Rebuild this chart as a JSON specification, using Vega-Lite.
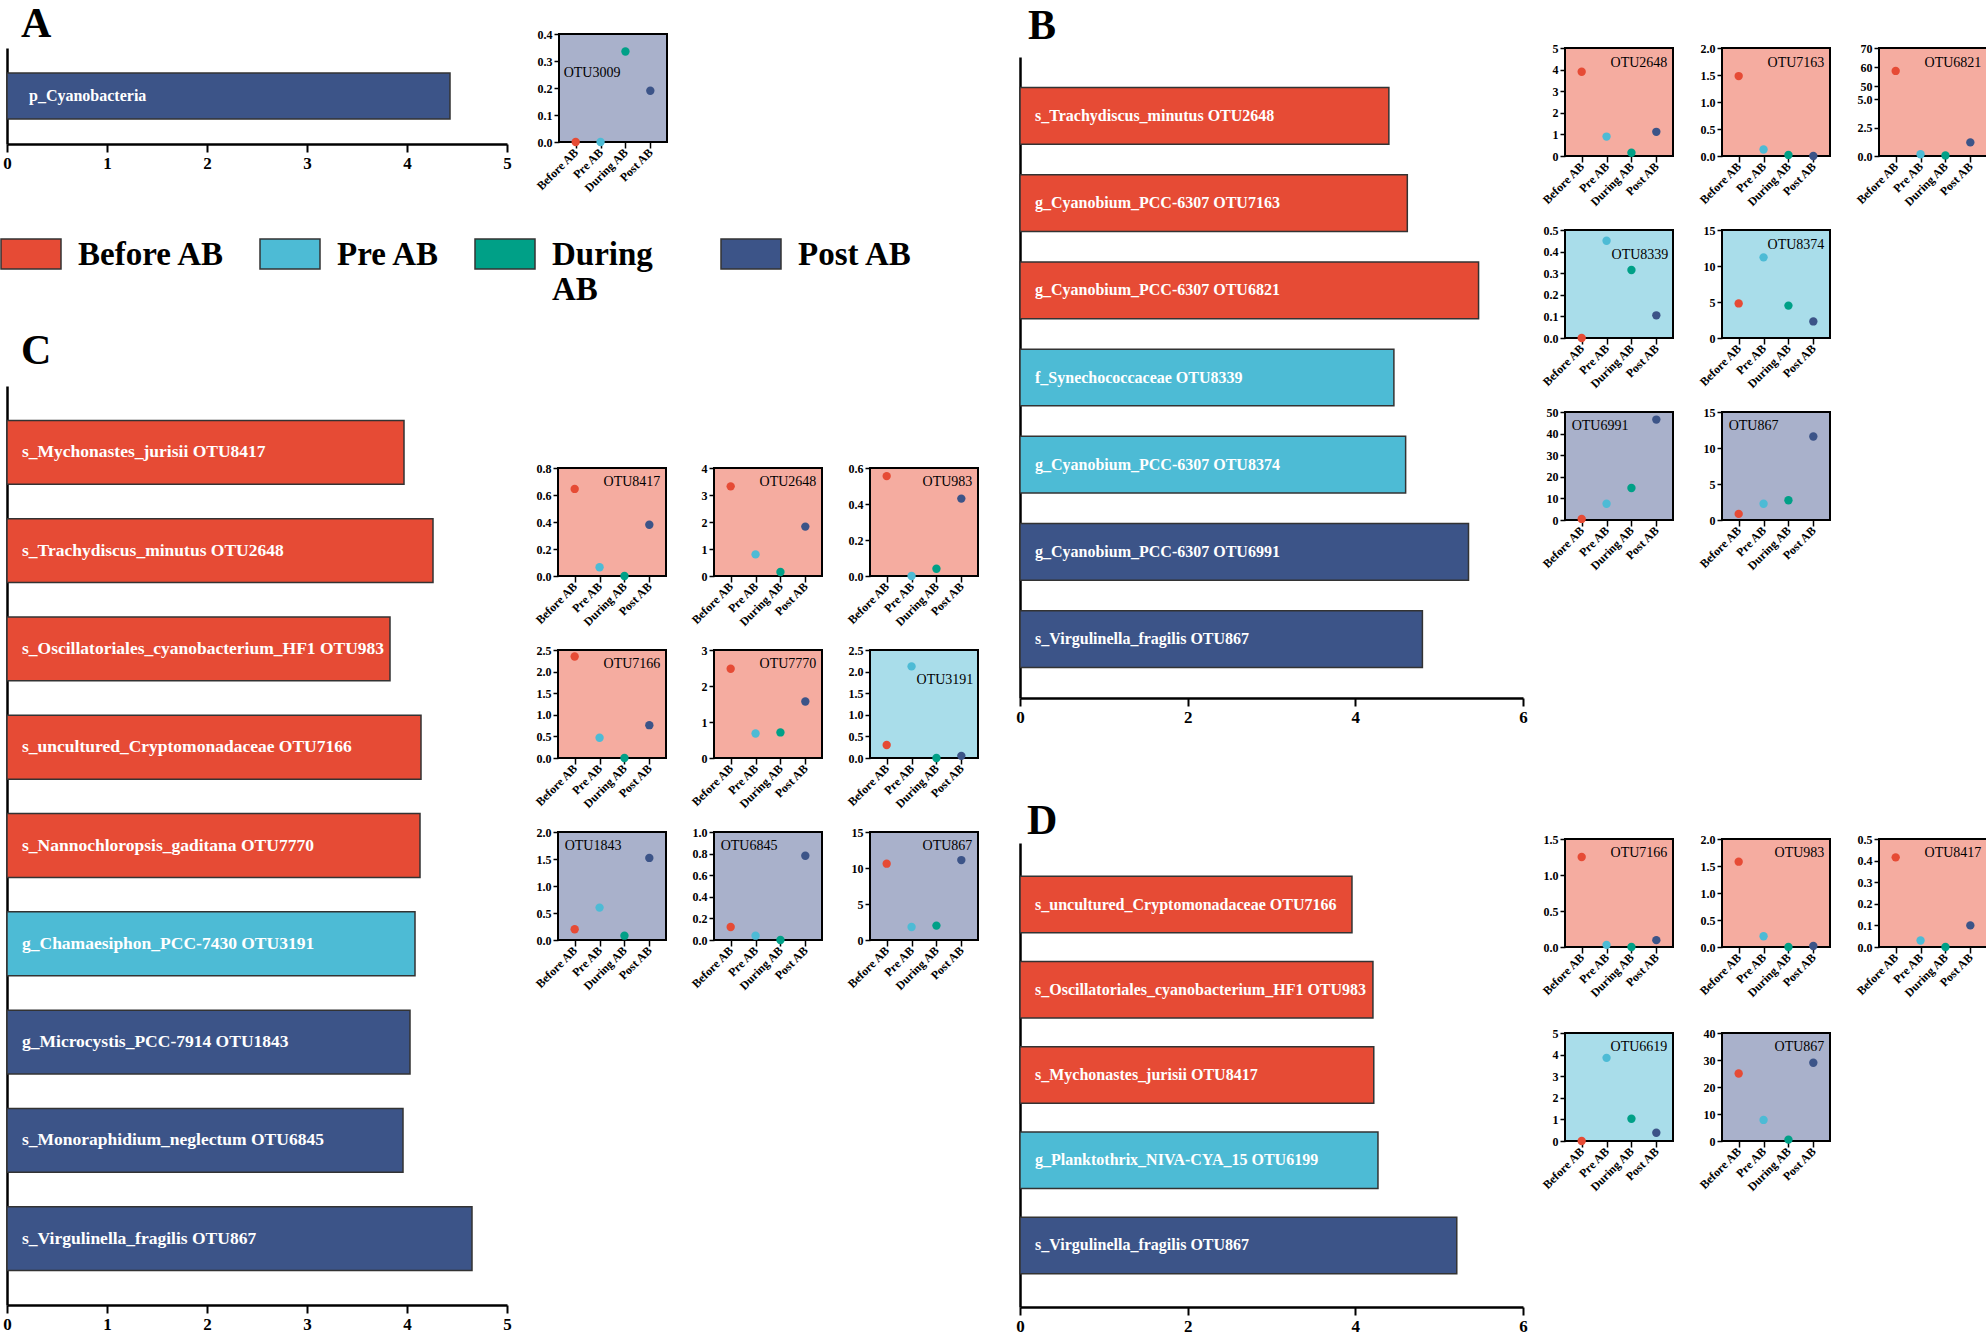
{
"$schema": "https://vega.github.io/schema/vega-lite/v6.json",
"background": "white",
"padding": {"left": 0, "top": 3, "right": 0, "bottom": 0},
"datasets": {
"bars": [
{"panel":"A","label":"p_Cyanobacteria","group":"Post AB","value":4.43},
{"panel":"B","label":"s_Trachydiscus_minutus OTU2648","group":"Before AB","value":4.40},
{"panel":"B","label":"g_Cyanobium_PCC-6307 OTU7163","group":"Before AB","value":4.62},
{"panel":"B","label":"g_Cyanobium_PCC-6307 OTU6821","group":"Before AB","value":5.47},
{"panel":"B","label":"f_Synechococcaceae OTU8339","group":"Pre AB","value":4.46},
{"panel":"B","label":"g_Cyanobium_PCC-6307 OTU8374","group":"Pre AB","value":4.60},
{"panel":"B","label":"g_Cyanobium_PCC-6307 OTU6991","group":"Post AB","value":5.35},
{"panel":"B","label":"s_Virgulinella_fragilis OTU867","group":"Post AB","value":4.80},
{"panel":"C","label":"s_Mychonastes_jurisii OTU8417","group":"Before AB","value":3.97},
{"panel":"C","label":"s_Trachydiscus_minutus OTU2648","group":"Before AB","value":4.26},
{"panel":"C","label":"s_Oscillatoriales_cyanobacterium_HF1 OTU983","group":"Before AB","value":3.83},
{"panel":"C","label":"s_uncultured_Cryptomonadaceae OTU7166","group":"Before AB","value":4.14},
{"panel":"C","label":"s_Nannochloropsis_gaditana OTU7770","group":"Before AB","value":4.13},
{"panel":"C","label":"g_Chamaesiphon_PCC-7430 OTU3191","group":"Pre AB","value":4.08},
{"panel":"C","label":"g_Microcystis_PCC-7914 OTU1843","group":"Post AB","value":4.03},
{"panel":"C","label":"s_Monoraphidium_neglectum OTU6845","group":"Post AB","value":3.96},
{"panel":"C","label":"s_Virgulinella_fragilis OTU867","group":"Post AB","value":4.65},
{"panel":"D","label":"s_uncultured_Cryptomonadaceae OTU7166","group":"Before AB","value":3.96},
{"panel":"D","label":"s_Oscillatoriales_cyanobacterium_HF1 OTU983","group":"Before AB","value":4.21},
{"panel":"D","label":"s_Mychonastes_jurisii OTU8417","group":"Before AB","value":4.22},
{"panel":"D","label":"g_Planktothrix_NIVA-CYA_15 OTU6199","group":"Pre AB","value":4.27},
{"panel":"D","label":"s_Virgulinella_fragilis OTU867","group":"Post AB","value":5.21}
],
"pts": [
{"chart":"A1","otu":"OTU3009","group":"Before AB","value":0},
{"chart":"A1","otu":"OTU3009","group":"Pre AB","value":0},
{"chart":"A1","otu":"OTU3009","group":"During AB","value":0.335},
{"chart":"A1","otu":"OTU3009","group":"Post AB","value":0.19},
{"chart":"B1","otu":"OTU2648","group":"Before AB","value":3.9},
{"chart":"B1","otu":"OTU2648","group":"Pre AB","value":0.9},
{"chart":"B1","otu":"OTU2648","group":"During AB","value":0.15},
{"chart":"B1","otu":"OTU2648","group":"Post AB","value":1.12},
{"chart":"B2","otu":"OTU7163","group":"Before AB","value":1.48},
{"chart":"B2","otu":"OTU7163","group":"Pre AB","value":0.12},
{"chart":"B2","otu":"OTU7163","group":"During AB","value":0.02},
{"chart":"B2","otu":"OTU7163","group":"Post AB","value":0.0},
{"chart":"B3","otu":"OTU6821","group":"Before AB","value":58},
{"chart":"B3","otu":"OTU6821","group":"Pre AB","value":0.15},
{"chart":"B3","otu":"OTU6821","group":"During AB","value":0.05},
{"chart":"B3","otu":"OTU6821","group":"Post AB","value":1.2},
{"chart":"B4","otu":"OTU8339","group":"Before AB","value":0.0},
{"chart":"B4","otu":"OTU8339","group":"Pre AB","value":0.45},
{"chart":"B4","otu":"OTU8339","group":"During AB","value":0.315},
{"chart":"B4","otu":"OTU8339","group":"Post AB","value":0.105},
{"chart":"B5","otu":"OTU8374","group":"Before AB","value":4.8},
{"chart":"B5","otu":"OTU8374","group":"Pre AB","value":11.2},
{"chart":"B5","otu":"OTU8374","group":"During AB","value":4.5},
{"chart":"B5","otu":"OTU8374","group":"Post AB","value":2.3},
{"chart":"B6","otu":"OTU6991","group":"Before AB","value":0.5},
{"chart":"B6","otu":"OTU6991","group":"Pre AB","value":7.5},
{"chart":"B6","otu":"OTU6991","group":"During AB","value":14.8},
{"chart":"B6","otu":"OTU6991","group":"Post AB","value":46.5},
{"chart":"B7","otu":"OTU867","group":"Before AB","value":0.85},
{"chart":"B7","otu":"OTU867","group":"Pre AB","value":2.25},
{"chart":"B7","otu":"OTU867","group":"During AB","value":2.75},
{"chart":"B7","otu":"OTU867","group":"Post AB","value":11.6},
{"chart":"C1","otu":"OTU8417","group":"Before AB","value":0.645},
{"chart":"C1","otu":"OTU8417","group":"Pre AB","value":0.065},
{"chart":"C1","otu":"OTU8417","group":"During AB","value":0.0},
{"chart":"C1","otu":"OTU8417","group":"Post AB","value":0.38},
{"chart":"C2","otu":"OTU2648","group":"Before AB","value":3.32},
{"chart":"C2","otu":"OTU2648","group":"Pre AB","value":0.8},
{"chart":"C2","otu":"OTU2648","group":"During AB","value":0.15},
{"chart":"C2","otu":"OTU2648","group":"Post AB","value":1.83},
{"chart":"C3","otu":"OTU983","group":"Before AB","value":0.555},
{"chart":"C3","otu":"OTU983","group":"Pre AB","value":0.0},
{"chart":"C3","otu":"OTU983","group":"During AB","value":0.04},
{"chart":"C3","otu":"OTU983","group":"Post AB","value":0.43},
{"chart":"C4","otu":"OTU7166","group":"Before AB","value":2.35},
{"chart":"C4","otu":"OTU7166","group":"Pre AB","value":0.47},
{"chart":"C4","otu":"OTU7166","group":"During AB","value":0.0},
{"chart":"C4","otu":"OTU7166","group":"Post AB","value":0.76},
{"chart":"C5","otu":"OTU7770","group":"Before AB","value":2.48},
{"chart":"C5","otu":"OTU7770","group":"Pre AB","value":0.68},
{"chart":"C5","otu":"OTU7770","group":"During AB","value":0.71},
{"chart":"C5","otu":"OTU7770","group":"Post AB","value":1.57},
{"chart":"C6","otu":"OTU3191","group":"Before AB","value":0.3},
{"chart":"C6","otu":"OTU3191","group":"Pre AB","value":2.12},
{"chart":"C6","otu":"OTU3191","group":"During AB","value":0.0},
{"chart":"C6","otu":"OTU3191","group":"Post AB","value":0.05},
{"chart":"C7","otu":"OTU1843","group":"Before AB","value":0.2},
{"chart":"C7","otu":"OTU1843","group":"Pre AB","value":0.6},
{"chart":"C7","otu":"OTU1843","group":"During AB","value":0.08},
{"chart":"C7","otu":"OTU1843","group":"Post AB","value":1.52},
{"chart":"C8","otu":"OTU6845","group":"Before AB","value":0.12},
{"chart":"C8","otu":"OTU6845","group":"Pre AB","value":0.04},
{"chart":"C8","otu":"OTU6845","group":"During AB","value":0.0},
{"chart":"C8","otu":"OTU6845","group":"Post AB","value":0.78},
{"chart":"C9","otu":"OTU867","group":"Before AB","value":10.6},
{"chart":"C9","otu":"OTU867","group":"Pre AB","value":1.8},
{"chart":"C9","otu":"OTU867","group":"During AB","value":2.0},
{"chart":"C9","otu":"OTU867","group":"Post AB","value":11.1},
{"chart":"D1","otu":"OTU7166","group":"Before AB","value":1.25},
{"chart":"D1","otu":"OTU7166","group":"Pre AB","value":0.03},
{"chart":"D1","otu":"OTU7166","group":"During AB","value":0.0},
{"chart":"D1","otu":"OTU7166","group":"Post AB","value":0.095},
{"chart":"D2","otu":"OTU983","group":"Before AB","value":1.58},
{"chart":"D2","otu":"OTU983","group":"Pre AB","value":0.2},
{"chart":"D2","otu":"OTU983","group":"During AB","value":0.0},
{"chart":"D2","otu":"OTU983","group":"Post AB","value":0.02},
{"chart":"D3","otu":"OTU8417","group":"Before AB","value":0.415},
{"chart":"D3","otu":"OTU8417","group":"Pre AB","value":0.03},
{"chart":"D3","otu":"OTU8417","group":"During AB","value":0.0},
{"chart":"D3","otu":"OTU8417","group":"Post AB","value":0.1},
{"chart":"D4","otu":"OTU6619","group":"Before AB","value":0.0},
{"chart":"D4","otu":"OTU6619","group":"Pre AB","value":3.85},
{"chart":"D4","otu":"OTU6619","group":"During AB","value":1.03},
{"chart":"D4","otu":"OTU6619","group":"Post AB","value":0.38},
{"chart":"D5","otu":"OTU867","group":"Before AB","value":25},
{"chart":"D5","otu":"OTU867","group":"Pre AB","value":7.8},
{"chart":"D5","otu":"OTU867","group":"During AB","value":0.5},
{"chart":"D5","otu":"OTU867","group":"Post AB","value":29}
]
},
"config": {
"font": "Liberation Serif",
"view": {"stroke": null},
"axis": {"labelFont": "Liberation Serif", "labelFontWeight": "bold", "labelFontSize": 12, "labelColor": "black", "tickColor": "black", "tickWidth": 1.5, "tickSize": 5, "domain": false, "grid": false, "labelPadding": 2, "labelFlush": false, "labelOverlap": false},
"axisX": {"labelAngle": -45, "labelAlign": "right", "labelBaseline": "middle", "tickSize": 6},
"text": {"font": "Liberation Serif"}
},
"spacing": 36,
"hconcat": [
{"vconcat": [
 {"hconcat": [
  {"width": 500, "height": 110,
   "title": {"text": "A", "anchor": "start", "frame": "group", "font": "Liberation Serif", "fontSize": 42, "fontWeight": "bold", "color": "black", "offset": -45, "baseline": "alphabetic", "dx": 14},
   "data": {"name": "bars"}, "transform": [{"filter": "datum.panel=='A'"}],
   "encoding": {"y": {"field": "label", "type": "nominal", "sort": null, "title": null, "scale": {"range": [14, 110], "paddingInner": 0.35, "paddingOuter": 0.35}, "axis": {"labels": false, "domain": true, "domainColor": "black", "domainWidth": 2.5, "tickSize": -8, "tickWidth": 2}}},
   "layer": [
    {"mark": {"type": "bar", "stroke": "#333", "strokeWidth": 1.5}, "encoding": {"x": {"field": "value", "type": "quantitative", "title": null, "scale": {"domain": [0, 5], "nice": false}, "axis": {"values": [0,1,2,3,4,5], "format": "d", "domain": true, "domainColor": "black", "domainWidth": 2.5, "tickSize": 8, "tickWidth": 2, "labelAngle": 0, "labelAlign": "center", "labelBaseline": "top", "labelFontSize": 17, "labelPadding": 3}},
      "color": {"field": "group", "type": "nominal", "scale": {"domain": ["Before AB","Pre AB","During AB","Post AB"], "range": ["#E64B35","#4DBBD5","#00A087","#3C5488"]},
        "legend": {"orient": "none", "legendX": -7, "legendY": 200, "direction": "horizontal", "title": null, "symbolType": "M-1,-0.867H1V0.133H-1Z", "symbolSize": 3600, "symbolStrokeColor": "#333", "symbolStrokeWidth": 1.5, "symbolOpacity": 1, "labelFont": "Liberation Serif", "labelFontSize": 33, "labelFontWeight": "bold", "labelColor": "black", "labelOffset": 16, "columnPadding": 32, "labelBaseline": "alphabetic", "labelLimit": 400, "padding": 0, "labelExpr": "datum.label == 'During AB' ? ['During\u00a0\u2800', 'AB'] : [datum.label, '\u2800']"}}}},
    {"mark": {"type": "text", "align": "left", "dx": 22, "color": "white", "fontSize": 16, "fontWeight": "bold"}, "encoding": {"x": {"datum": 0}, "text": {"field": "label"}}}
   ]},
  {"width": 108, "height": 108, "data": {"name": "pts"}, "transform": [{"filter": "datum.chart=='A1'"}], "view": {"fill": "#A9B1CB", "stroke": "black", "strokeWidth": 2},
   "encoding": {"x": {"field": "group", "type": "nominal", "title": null, "sort": null, "scale": {"type": "point", "domain": ["Before AB","Pre AB","During AB","Post AB"], "padding": 0.67}}, "y": {"field": "value", "type": "quantitative", "title": null, "scale": {"domain": [0, 0.4], "nice": false}, "axis": {"values": [0,0.1,0.2,0.3,0.4], "format": ".1f"}}},
   "layer": [
    {"mark": {"type": "circle", "size": 70, "opacity": 1}, "encoding": {"color": {"field": "group", "type": "nominal", "scale": {"domain": ["Before AB","Pre AB","During AB","Post AB"], "range": ["#E64B35","#4DBBD5","#00A087","#3C5488"]}, "legend": null}}},
    {"transform": [{"filter": "datum.group=='Before AB'"}], "mark": {"type": "text", "align": "left", "baseline": "middle", "dx": -12, "fontSize": 14, "color": "black"}, "encoding": {"x": {"datum": "Before AB"}, "y": {"datum": 0.255}, "text": {"field": "otu"}}}
   ]}
 ], "spacing": 20},
 {"hconcat": [
  {"width": 500, "height": 919,
   "title": {"text": "C", "anchor": "start", "frame": "group", "font": "Liberation Serif", "fontSize": 42, "fontWeight": "bold", "color": "black", "offset": -20, "baseline": "alphabetic", "dx": 14},
   "data": {"name": "bars"}, "transform": [{"filter": "datum.panel=='C'"}],
   "encoding": {"y": {"field": "label", "type": "nominal", "sort": null, "title": null, "scale": {"paddingInner": 0.35, "paddingOuter": 0.35}, "axis": {"labels": false, "domain": true, "domainColor": "black", "domainWidth": 2.5, "tickSize": -8, "tickWidth": 2}}},
   "layer": [
    {"mark": {"type": "bar", "stroke": "#333", "strokeWidth": 1.5}, "encoding": {"x": {"field": "value", "type": "quantitative", "title": null, "scale": {"domain": [0, 5], "nice": false}, "axis": {"values": [0,1,2,3,4,5], "format": "d", "domain": true, "domainColor": "black", "domainWidth": 2.5, "tickSize": 8, "tickWidth": 2, "labelAngle": 0, "labelAlign": "center", "labelBaseline": "top", "labelFontSize": 17, "labelPadding": 3}},
      "color": {"field": "group", "type": "nominal", "scale": {"domain": ["Before AB","Pre AB","During AB","Post AB"], "range": ["#E64B35","#4DBBD5","#00A087","#3C5488"]}, "legend": null}}},
    {"mark": {"type": "text", "align": "left", "dx": 15, "color": "white", "fontSize": 17.5, "fontWeight": "bold"}, "encoding": {"x": {"datum": 0}, "text": {"field": "label"}}}
   ]},
  {"vconcat": [
   {"width": 10, "height": 75, "data": {"values": []}, "mark": "point"},
   {"concat": [
    {"width": 108, "height": 108, "data": {"name": "pts"}, "transform": [{"filter": "datum.chart=='C1'"}], "view": {"fill": "#F5ACA0", "stroke": "black", "strokeWidth": 2},
     "encoding": {"x": {"field": "group", "type": "nominal", "title": null, "sort": null, "scale": {"type": "point", "domain": ["Before AB","Pre AB","During AB","Post AB"], "padding": 0.67}}, "y": {"field": "value", "type": "quantitative", "title": null, "scale": {"domain": [0, 0.8], "nice": false}, "axis": {"values": [0,0.2,0.4,0.6,0.8], "format": ".1f"}}},
     "layer": [
      {"mark": {"type": "circle", "size": 70, "opacity": 1}, "encoding": {"color": {"field": "group", "type": "nominal", "scale": {"domain": ["Before AB","Pre AB","During AB","Post AB"], "range": ["#E64B35","#4DBBD5","#00A087","#3C5488"]}, "legend": null}}},
      {"transform": [{"filter": "datum.group=='Before AB'"}], "mark": {"type": "text", "align": "right", "baseline": "alphabetic", "dx": 11, "dy": 18, "fontSize": 14, "color": "black"}, "encoding": {"x": {"datum": "Post AB"}, "y": {"datum": 0.8}, "text": {"field": "otu"}}}
     ]},
    {"width": 108, "height": 108, "data": {"name": "pts"}, "transform": [{"filter": "datum.chart=='C2'"}], "view": {"fill": "#F5ACA0", "stroke": "black", "strokeWidth": 2},
     "encoding": {"x": {"field": "group", "type": "nominal", "title": null, "sort": null, "scale": {"type": "point", "domain": ["Before AB","Pre AB","During AB","Post AB"], "padding": 0.67}}, "y": {"field": "value", "type": "quantitative", "title": null, "scale": {"domain": [0, 4], "nice": false}, "axis": {"values": [0,1,2,3,4], "format": "d"}}},
     "layer": [
      {"mark": {"type": "circle", "size": 70, "opacity": 1}, "encoding": {"color": {"field": "group", "type": "nominal", "scale": {"domain": ["Before AB","Pre AB","During AB","Post AB"], "range": ["#E64B35","#4DBBD5","#00A087","#3C5488"]}, "legend": null}}},
      {"transform": [{"filter": "datum.group=='Before AB'"}], "mark": {"type": "text", "align": "right", "baseline": "alphabetic", "dx": 11, "dy": 18, "fontSize": 14, "color": "black"}, "encoding": {"x": {"datum": "Post AB"}, "y": {"datum": 4}, "text": {"field": "otu"}}}
     ]},
    {"width": 108, "height": 108, "data": {"name": "pts"}, "transform": [{"filter": "datum.chart=='C3'"}], "view": {"fill": "#F5ACA0", "stroke": "black", "strokeWidth": 2},
     "encoding": {"x": {"field": "group", "type": "nominal", "title": null, "sort": null, "scale": {"type": "point", "domain": ["Before AB","Pre AB","During AB","Post AB"], "padding": 0.67}}, "y": {"field": "value", "type": "quantitative", "title": null, "scale": {"domain": [0, 0.6], "nice": false}, "axis": {"values": [0,0.2,0.4,0.6], "format": ".1f"}}},
     "layer": [
      {"mark": {"type": "circle", "size": 70, "opacity": 1}, "encoding": {"color": {"field": "group", "type": "nominal", "scale": {"domain": ["Before AB","Pre AB","During AB","Post AB"], "range": ["#E64B35","#4DBBD5","#00A087","#3C5488"]}, "legend": null}}},
      {"transform": [{"filter": "datum.group=='Before AB'"}], "mark": {"type": "text", "align": "right", "baseline": "alphabetic", "dx": 11, "dy": 18, "fontSize": 14, "color": "black"}, "encoding": {"x": {"datum": "Post AB"}, "y": {"datum": 0.6}, "text": {"field": "otu"}}}
     ]},
    {"width": 108, "height": 108, "data": {"name": "pts"}, "transform": [{"filter": "datum.chart=='C4'"}], "view": {"fill": "#F5ACA0", "stroke": "black", "strokeWidth": 2},
     "encoding": {"x": {"field": "group", "type": "nominal", "title": null, "sort": null, "scale": {"type": "point", "domain": ["Before AB","Pre AB","During AB","Post AB"], "padding": 0.67}}, "y": {"field": "value", "type": "quantitative", "title": null, "scale": {"domain": [0, 2.5], "nice": false}, "axis": {"values": [0,0.5,1,1.5,2,2.5], "format": ".1f"}}},
     "layer": [
      {"mark": {"type": "circle", "size": 70, "opacity": 1}, "encoding": {"color": {"field": "group", "type": "nominal", "scale": {"domain": ["Before AB","Pre AB","During AB","Post AB"], "range": ["#E64B35","#4DBBD5","#00A087","#3C5488"]}, "legend": null}}},
      {"transform": [{"filter": "datum.group=='Before AB'"}], "mark": {"type": "text", "align": "right", "baseline": "alphabetic", "dx": 11, "dy": 18, "fontSize": 14, "color": "black"}, "encoding": {"x": {"datum": "Post AB"}, "y": {"datum": 2.5}, "text": {"field": "otu"}}}
     ]},
    {"width": 108, "height": 108, "data": {"name": "pts"}, "transform": [{"filter": "datum.chart=='C5'"}], "view": {"fill": "#F5ACA0", "stroke": "black", "strokeWidth": 2},
     "encoding": {"x": {"field": "group", "type": "nominal", "title": null, "sort": null, "scale": {"type": "point", "domain": ["Before AB","Pre AB","During AB","Post AB"], "padding": 0.67}}, "y": {"field": "value", "type": "quantitative", "title": null, "scale": {"domain": [0, 3], "nice": false}, "axis": {"values": [0,1,2,3], "format": "d"}}},
     "layer": [
      {"mark": {"type": "circle", "size": 70, "opacity": 1}, "encoding": {"color": {"field": "group", "type": "nominal", "scale": {"domain": ["Before AB","Pre AB","During AB","Post AB"], "range": ["#E64B35","#4DBBD5","#00A087","#3C5488"]}, "legend": null}}},
      {"transform": [{"filter": "datum.group=='Before AB'"}], "mark": {"type": "text", "align": "right", "baseline": "alphabetic", "dx": 11, "dy": 18, "fontSize": 14, "color": "black"}, "encoding": {"x": {"datum": "Post AB"}, "y": {"datum": 3}, "text": {"field": "otu"}}}
     ]},
    {"width": 108, "height": 108, "data": {"name": "pts"}, "transform": [{"filter": "datum.chart=='C6'"}], "view": {"fill": "#A9DDEA", "stroke": "black", "strokeWidth": 2},
     "encoding": {"x": {"field": "group", "type": "nominal", "title": null, "sort": null, "scale": {"type": "point", "domain": ["Before AB","Pre AB","During AB","Post AB"], "padding": 0.67}}, "y": {"field": "value", "type": "quantitative", "title": null, "scale": {"domain": [0, 2.5], "nice": false}, "axis": {"values": [0,0.5,1,1.5,2,2.5], "format": ".1f"}}},
     "layer": [
      {"mark": {"type": "circle", "size": 70, "opacity": 1}, "encoding": {"color": {"field": "group", "type": "nominal", "scale": {"domain": ["Before AB","Pre AB","During AB","Post AB"], "range": ["#E64B35","#4DBBD5","#00A087","#3C5488"]}, "legend": null}}},
      {"transform": [{"filter": "datum.group=='Before AB'"}], "mark": {"type": "text", "align": "right", "baseline": "middle", "dx": 12, "fontSize": 14, "color": "black"}, "encoding": {"x": {"datum": "Post AB"}, "y": {"datum": 1.8}, "text": {"field": "otu"}}}
     ]},
    {"width": 108, "height": 108, "data": {"name": "pts"}, "transform": [{"filter": "datum.chart=='C7'"}], "view": {"fill": "#A9B1CB", "stroke": "black", "strokeWidth": 2},
     "encoding": {"x": {"field": "group", "type": "nominal", "title": null, "sort": null, "scale": {"type": "point", "domain": ["Before AB","Pre AB","During AB","Post AB"], "padding": 0.67}}, "y": {"field": "value", "type": "quantitative", "title": null, "scale": {"domain": [0, 2], "nice": false}, "axis": {"values": [0,0.5,1,1.5,2], "format": ".1f"}}},
     "layer": [
      {"mark": {"type": "circle", "size": 70, "opacity": 1}, "encoding": {"color": {"field": "group", "type": "nominal", "scale": {"domain": ["Before AB","Pre AB","During AB","Post AB"], "range": ["#E64B35","#4DBBD5","#00A087","#3C5488"]}, "legend": null}}},
      {"transform": [{"filter": "datum.group=='Before AB'"}], "mark": {"type": "text", "align": "left", "baseline": "alphabetic", "dx": -10, "dy": 18, "fontSize": 14, "color": "black"}, "encoding": {"x": {"datum": "Before AB"}, "y": {"datum": 2}, "text": {"field": "otu"}}}
     ]},
    {"width": 108, "height": 108, "data": {"name": "pts"}, "transform": [{"filter": "datum.chart=='C8'"}], "view": {"fill": "#A9B1CB", "stroke": "black", "strokeWidth": 2},
     "encoding": {"x": {"field": "group", "type": "nominal", "title": null, "sort": null, "scale": {"type": "point", "domain": ["Before AB","Pre AB","During AB","Post AB"], "padding": 0.67}}, "y": {"field": "value", "type": "quantitative", "title": null, "scale": {"domain": [0, 1], "nice": false}, "axis": {"values": [0,0.2,0.4,0.6,0.8,1], "format": ".1f"}}},
     "layer": [
      {"mark": {"type": "circle", "size": 70, "opacity": 1}, "encoding": {"color": {"field": "group", "type": "nominal", "scale": {"domain": ["Before AB","Pre AB","During AB","Post AB"], "range": ["#E64B35","#4DBBD5","#00A087","#3C5488"]}, "legend": null}}},
      {"transform": [{"filter": "datum.group=='Before AB'"}], "mark": {"type": "text", "align": "left", "baseline": "alphabetic", "dx": -10, "dy": 18, "fontSize": 14, "color": "black"}, "encoding": {"x": {"datum": "Before AB"}, "y": {"datum": 1}, "text": {"field": "otu"}}}
     ]},
    {"width": 108, "height": 108, "data": {"name": "pts"}, "transform": [{"filter": "datum.chart=='C9'"}], "view": {"fill": "#A9B1CB", "stroke": "black", "strokeWidth": 2},
     "encoding": {"x": {"field": "group", "type": "nominal", "title": null, "sort": null, "scale": {"type": "point", "domain": ["Before AB","Pre AB","During AB","Post AB"], "padding": 0.67}}, "y": {"field": "value", "type": "quantitative", "title": null, "scale": {"domain": [0, 15], "nice": false}, "axis": {"values": [0,5,10,15], "format": "d"}}},
     "layer": [
      {"mark": {"type": "circle", "size": 70, "opacity": 1}, "encoding": {"color": {"field": "group", "type": "nominal", "scale": {"domain": ["Before AB","Pre AB","During AB","Post AB"], "range": ["#E64B35","#4DBBD5","#00A087","#3C5488"]}, "legend": null}}},
      {"transform": [{"filter": "datum.group=='Before AB'"}], "mark": {"type": "text", "align": "right", "baseline": "alphabetic", "dx": 11, "dy": 18, "fontSize": 14, "color": "black"}, "encoding": {"x": {"datum": "Post AB"}, "y": {"datum": 15}, "text": {"field": "otu"}}}
     ]}
   ], "columns": 3, "spacing": {"row": 74, "column": 48}, "bounds": "flush"}
  ], "spacing": 0}
 ], "spacing": 19}
], "spacing": 134},
{"vconcat": [
 {"hconcat": [
  {"width": 503, "height": 664,
   "title": {"text": "B", "anchor": "start", "frame": "group", "font": "Liberation Serif", "fontSize": 42, "fontWeight": "bold", "color": "black", "offset": -47, "baseline": "alphabetic", "dx": 8},
   "data": {"name": "bars"}, "transform": [{"filter": "datum.panel=='B'"}],
   "encoding": {"y": {"field": "label", "type": "nominal", "sort": null, "title": null, "scale": {"range": [23, 664], "paddingInner": 0.35, "paddingOuter": 0.35}, "axis": {"labels": false, "domain": true, "domainColor": "black", "domainWidth": 2.5, "tickSize": -8, "tickWidth": 2}}},
   "layer": [
    {"mark": {"type": "bar", "stroke": "#333", "strokeWidth": 1.5}, "encoding": {"x": {"field": "value", "type": "quantitative", "title": null, "scale": {"domain": [0, 6], "nice": false}, "axis": {"values": [0,2,4,6], "format": "d", "domain": true, "domainColor": "black", "domainWidth": 2.5, "tickSize": 8, "tickWidth": 2, "labelAngle": 0, "labelAlign": "center", "labelBaseline": "top", "labelFontSize": 17, "labelPadding": 3}},
      "color": {"field": "group", "type": "nominal", "scale": {"domain": ["Before AB","Pre AB","During AB","Post AB"], "range": ["#E64B35","#4DBBD5","#00A087","#3C5488"]}, "legend": null}}},
    {"mark": {"type": "text", "align": "left", "dx": 15, "color": "white", "fontSize": 16, "fontWeight": "bold"}, "encoding": {"x": {"datum": 0}, "text": {"field": "label"}}}
   ]},
  {"vconcat": [
   {"width": 10, "height": 7, "data": {"values": []}, "mark": "point"},
   {"concat": [
    {"width": 108, "height": 108, "data": {"name": "pts"}, "transform": [{"filter": "datum.chart=='B1'"}], "view": {"fill": "#F5ACA0", "stroke": "black", "strokeWidth": 2},
     "encoding": {"x": {"field": "group", "type": "nominal", "title": null, "sort": null, "scale": {"type": "point", "domain": ["Before AB","Pre AB","During AB","Post AB"], "padding": 0.67}}, "y": {"field": "value", "type": "quantitative", "title": null, "scale": {"domain": [0, 5], "nice": false}, "axis": {"values": [0,1,2,3,4,5], "format": "d"}}},
     "layer": [
      {"mark": {"type": "circle", "size": 70, "opacity": 1}, "encoding": {"color": {"field": "group", "type": "nominal", "scale": {"domain": ["Before AB","Pre AB","During AB","Post AB"], "range": ["#E64B35","#4DBBD5","#00A087","#3C5488"]}, "legend": null}}},
      {"transform": [{"filter": "datum.group=='Before AB'"}], "mark": {"type": "text", "align": "right", "baseline": "alphabetic", "dx": 11, "dy": 19, "fontSize": 14, "color": "black"}, "encoding": {"x": {"datum": "Post AB"}, "y": {"datum": 5}, "text": {"field": "otu"}}}
     ]},
    {"width": 108, "height": 108, "data": {"name": "pts"}, "transform": [{"filter": "datum.chart=='B2'"}], "view": {"fill": "#F5ACA0", "stroke": "black", "strokeWidth": 2},
     "encoding": {"x": {"field": "group", "type": "nominal", "title": null, "sort": null, "scale": {"type": "point", "domain": ["Before AB","Pre AB","During AB","Post AB"], "padding": 0.67}}, "y": {"field": "value", "type": "quantitative", "title": null, "scale": {"domain": [0, 2], "nice": false}, "axis": {"values": [0,0.5,1,1.5,2], "format": ".1f"}}},
     "layer": [
      {"mark": {"type": "circle", "size": 70, "opacity": 1}, "encoding": {"color": {"field": "group", "type": "nominal", "scale": {"domain": ["Before AB","Pre AB","During AB","Post AB"], "range": ["#E64B35","#4DBBD5","#00A087","#3C5488"]}, "legend": null}}},
      {"transform": [{"filter": "datum.group=='Before AB'"}], "mark": {"type": "text", "align": "right", "baseline": "alphabetic", "dx": 11, "dy": 19, "fontSize": 14, "color": "black"}, "encoding": {"x": {"datum": "Post AB"}, "y": {"datum": 2}, "text": {"field": "otu"}}}
     ]},
    {"width": 108, "height": 108, "data": {"name": "pts"}, "transform": [{"filter": "datum.chart=='B3'"}], "view": {"fill": "#F5ACA0", "stroke": "black", "strokeWidth": 2},
     "encoding": {"x": {"field": "group", "type": "nominal", "title": null, "sort": null, "scale": {"type": "point", "domain": ["Before AB","Pre AB","During AB","Post AB"], "padding": 0.67}}, "y": {"field": "value", "type": "quantitative", "title": null, "scale": {"domain": [0, 5, 50, 70], "range": [108, 51.3, 38.2, 0], "nice": false, "zero": false}, "axis": {"values": [0,2.5,5,50,60,70], "labelExpr": "datum.value >= 50 ? format(datum.value, 'd') : format(datum.value, '.1f')"}}},
     "layer": [
      {"mark": {"type": "circle", "size": 70, "opacity": 1}, "encoding": {"color": {"field": "group", "type": "nominal", "scale": {"domain": ["Before AB","Pre AB","During AB","Post AB"], "range": ["#E64B35","#4DBBD5","#00A087","#3C5488"]}, "legend": null}}},
      {"transform": [{"filter": "datum.group=='Before AB'"}], "mark": {"type": "text", "align": "right", "baseline": "alphabetic", "dx": 11, "dy": 19, "fontSize": 14, "color": "black"}, "encoding": {"x": {"datum": "Post AB"}, "y": {"datum": 70}, "text": {"field": "otu"}}}
     ]},
    {"width": 108, "height": 108, "data": {"name": "pts"}, "transform": [{"filter": "datum.chart=='B4'"}], "view": {"fill": "#A9DDEA", "stroke": "black", "strokeWidth": 2},
     "encoding": {"x": {"field": "group", "type": "nominal", "title": null, "sort": null, "scale": {"type": "point", "domain": ["Before AB","Pre AB","During AB","Post AB"], "padding": 0.67}}, "y": {"field": "value", "type": "quantitative", "title": null, "scale": {"domain": [0, 0.5], "nice": false}, "axis": {"values": [0,0.1,0.2,0.3,0.4,0.5], "format": ".1f"}}},
     "layer": [
      {"mark": {"type": "circle", "size": 70, "opacity": 1}, "encoding": {"color": {"field": "group", "type": "nominal", "scale": {"domain": ["Before AB","Pre AB","During AB","Post AB"], "range": ["#E64B35","#4DBBD5","#00A087","#3C5488"]}, "legend": null}}},
      {"transform": [{"filter": "datum.group=='Before AB'"}], "mark": {"type": "text", "align": "right", "baseline": "middle", "dx": 12, "fontSize": 14, "color": "black"}, "encoding": {"x": {"datum": "Post AB"}, "y": {"datum": 0.384}, "text": {"field": "otu"}}}
     ]},
    {"width": 108, "height": 108, "data": {"name": "pts"}, "transform": [{"filter": "datum.chart=='B5'"}], "view": {"fill": "#A9DDEA", "stroke": "black", "strokeWidth": 2},
     "encoding": {"x": {"field": "group", "type": "nominal", "title": null, "sort": null, "scale": {"type": "point", "domain": ["Before AB","Pre AB","During AB","Post AB"], "padding": 0.67}}, "y": {"field": "value", "type": "quantitative", "title": null, "scale": {"domain": [0, 15], "nice": false}, "axis": {"values": [0,5,10,15], "format": "d"}}},
     "layer": [
      {"mark": {"type": "circle", "size": 70, "opacity": 1}, "encoding": {"color": {"field": "group", "type": "nominal", "scale": {"domain": ["Before AB","Pre AB","During AB","Post AB"], "range": ["#E64B35","#4DBBD5","#00A087","#3C5488"]}, "legend": null}}},
      {"transform": [{"filter": "datum.group=='Before AB'"}], "mark": {"type": "text", "align": "right", "baseline": "alphabetic", "dx": 11, "dy": 19, "fontSize": 14, "color": "black"}, "encoding": {"x": {"datum": "Post AB"}, "y": {"datum": 15}, "text": {"field": "otu"}}}
     ]},
    {"width": 108, "height": 108, "data": {"values": []}, "mark": "point"},
    {"width": 108, "height": 108, "data": {"name": "pts"}, "transform": [{"filter": "datum.chart=='B6'"}], "view": {"fill": "#A9B1CB", "stroke": "black", "strokeWidth": 2},
     "encoding": {"x": {"field": "group", "type": "nominal", "title": null, "sort": null, "scale": {"type": "point", "domain": ["Before AB","Pre AB","During AB","Post AB"], "padding": 0.67}}, "y": {"field": "value", "type": "quantitative", "title": null, "scale": {"domain": [0, 50], "nice": false}, "axis": {"values": [0,10,20,30,40,50], "format": "d"}}},
     "layer": [
      {"mark": {"type": "circle", "size": 70, "opacity": 1}, "encoding": {"color": {"field": "group", "type": "nominal", "scale": {"domain": ["Before AB","Pre AB","During AB","Post AB"], "range": ["#E64B35","#4DBBD5","#00A087","#3C5488"]}, "legend": null}}},
      {"transform": [{"filter": "datum.group=='Before AB'"}], "mark": {"type": "text", "align": "left", "baseline": "alphabetic", "dx": -10, "dy": 18, "fontSize": 14, "color": "black"}, "encoding": {"x": {"datum": "Before AB"}, "y": {"datum": 50}, "text": {"field": "otu"}}}
     ]},
    {"width": 108, "height": 108, "data": {"name": "pts"}, "transform": [{"filter": "datum.chart=='B7'"}], "view": {"fill": "#A9B1CB", "stroke": "black", "strokeWidth": 2},
     "encoding": {"x": {"field": "group", "type": "nominal", "title": null, "sort": null, "scale": {"type": "point", "domain": ["Before AB","Pre AB","During AB","Post AB"], "padding": 0.67}}, "y": {"field": "value", "type": "quantitative", "title": null, "scale": {"domain": [0, 15], "nice": false}, "axis": {"values": [0,5,10,15], "format": "d"}}},
     "layer": [
      {"mark": {"type": "circle", "size": 70, "opacity": 1}, "encoding": {"color": {"field": "group", "type": "nominal", "scale": {"domain": ["Before AB","Pre AB","During AB","Post AB"], "range": ["#E64B35","#4DBBD5","#00A087","#3C5488"]}, "legend": null}}},
      {"transform": [{"filter": "datum.group=='Before AB'"}], "mark": {"type": "text", "align": "left", "baseline": "alphabetic", "dx": -10, "dy": 18, "fontSize": 14, "color": "black"}, "encoding": {"x": {"datum": "Before AB"}, "y": {"datum": 15}, "text": {"field": "otu"}}}
     ]}
   ], "columns": 3, "spacing": {"row": 74, "column": 49}, "bounds": "flush"}
  ], "spacing": 0}
 ], "spacing": 10},
 {"hconcat": [
  {"width": 503, "height": 468,
   "title": {"text": "D", "anchor": "start", "frame": "group", "font": "Liberation Serif", "fontSize": 42, "fontWeight": "bold", "color": "black", "offset": -37, "baseline": "alphabetic", "dx": 7},
   "data": {"name": "bars"}, "transform": [{"filter": "datum.panel=='D'"}],
   "encoding": {"y": {"field": "label", "type": "nominal", "sort": null, "title": null, "scale": {"range": [4, 468], "paddingInner": 0.336, "paddingOuter": 0.39}, "axis": {"labels": false, "domain": true, "domainColor": "black", "domainWidth": 2.5, "tickSize": -8, "tickWidth": 2}}},
   "layer": [
    {"mark": {"type": "bar", "stroke": "#333", "strokeWidth": 1.5}, "encoding": {"x": {"field": "value", "type": "quantitative", "title": null, "scale": {"domain": [0, 6], "nice": false}, "axis": {"values": [0,2,4,6], "format": "d", "domain": true, "domainColor": "black", "domainWidth": 2.5, "tickSize": 8, "tickWidth": 2, "labelAngle": 0, "labelAlign": "center", "labelBaseline": "top", "labelFontSize": 17, "labelPadding": 3}},
      "color": {"field": "group", "type": "nominal", "scale": {"domain": ["Before AB","Pre AB","During AB","Post AB"], "range": ["#E64B35","#4DBBD5","#00A087","#3C5488"]}, "legend": null}}},
    {"mark": {"type": "text", "align": "left", "dx": 15, "color": "white", "fontSize": 16, "fontWeight": "bold"}, "encoding": {"x": {"datum": 0}, "text": {"field": "label"}}}
   ]},
  {"concat": [
    {"width": 108, "height": 108, "data": {"name": "pts"}, "transform": [{"filter": "datum.chart=='D1'"}], "view": {"fill": "#F5ACA0", "stroke": "black", "strokeWidth": 2},
     "encoding": {"x": {"field": "group", "type": "nominal", "title": null, "sort": null, "scale": {"type": "point", "domain": ["Before AB","Pre AB","During AB","Post AB"], "padding": 0.67}}, "y": {"field": "value", "type": "quantitative", "title": null, "scale": {"domain": [0, 1.5], "nice": false}, "axis": {"values": [0,0.5,1,1.5], "format": ".1f"}}},
     "layer": [
      {"mark": {"type": "circle", "size": 70, "opacity": 1}, "encoding": {"color": {"field": "group", "type": "nominal", "scale": {"domain": ["Before AB","Pre AB","During AB","Post AB"], "range": ["#E64B35","#4DBBD5","#00A087","#3C5488"]}, "legend": null}}},
      {"transform": [{"filter": "datum.group=='Before AB'"}], "mark": {"type": "text", "align": "right", "baseline": "alphabetic", "dx": 11, "dy": 18, "fontSize": 14, "color": "black"}, "encoding": {"x": {"datum": "Post AB"}, "y": {"datum": 1.5}, "text": {"field": "otu"}}}
     ]},
    {"width": 108, "height": 108, "data": {"name": "pts"}, "transform": [{"filter": "datum.chart=='D2'"}], "view": {"fill": "#F5ACA0", "stroke": "black", "strokeWidth": 2},
     "encoding": {"x": {"field": "group", "type": "nominal", "title": null, "sort": null, "scale": {"type": "point", "domain": ["Before AB","Pre AB","During AB","Post AB"], "padding": 0.67}}, "y": {"field": "value", "type": "quantitative", "title": null, "scale": {"domain": [0, 2], "nice": false}, "axis": {"values": [0,0.5,1,1.5,2], "format": ".1f"}}},
     "layer": [
      {"mark": {"type": "circle", "size": 70, "opacity": 1}, "encoding": {"color": {"field": "group", "type": "nominal", "scale": {"domain": ["Before AB","Pre AB","During AB","Post AB"], "range": ["#E64B35","#4DBBD5","#00A087","#3C5488"]}, "legend": null}}},
      {"transform": [{"filter": "datum.group=='Before AB'"}], "mark": {"type": "text", "align": "right", "baseline": "alphabetic", "dx": 11, "dy": 18, "fontSize": 14, "color": "black"}, "encoding": {"x": {"datum": "Post AB"}, "y": {"datum": 2}, "text": {"field": "otu"}}}
     ]},
    {"width": 108, "height": 108, "data": {"name": "pts"}, "transform": [{"filter": "datum.chart=='D3'"}], "view": {"fill": "#F5ACA0", "stroke": "black", "strokeWidth": 2},
     "encoding": {"x": {"field": "group", "type": "nominal", "title": null, "sort": null, "scale": {"type": "point", "domain": ["Before AB","Pre AB","During AB","Post AB"], "padding": 0.67}}, "y": {"field": "value", "type": "quantitative", "title": null, "scale": {"domain": [0, 0.5], "nice": false}, "axis": {"values": [0,0.1,0.2,0.3,0.4,0.5], "format": ".1f"}}},
     "layer": [
      {"mark": {"type": "circle", "size": 70, "opacity": 1}, "encoding": {"color": {"field": "group", "type": "nominal", "scale": {"domain": ["Before AB","Pre AB","During AB","Post AB"], "range": ["#E64B35","#4DBBD5","#00A087","#3C5488"]}, "legend": null}}},
      {"transform": [{"filter": "datum.group=='Before AB'"}], "mark": {"type": "text", "align": "right", "baseline": "alphabetic", "dx": 11, "dy": 18, "fontSize": 14, "color": "black"}, "encoding": {"x": {"datum": "Post AB"}, "y": {"datum": 0.5}, "text": {"field": "otu"}}}
     ]},
    {"width": 108, "height": 108, "data": {"name": "pts"}, "transform": [{"filter": "datum.chart=='D4'"}], "view": {"fill": "#A9DDEA", "stroke": "black", "strokeWidth": 2},
     "encoding": {"x": {"field": "group", "type": "nominal", "title": null, "sort": null, "scale": {"type": "point", "domain": ["Before AB","Pre AB","During AB","Post AB"], "padding": 0.67}}, "y": {"field": "value", "type": "quantitative", "title": null, "scale": {"domain": [0, 5], "nice": false}, "axis": {"values": [0,1,2,3,4,5], "format": "d"}}},
     "layer": [
      {"mark": {"type": "circle", "size": 70, "opacity": 1}, "encoding": {"color": {"field": "group", "type": "nominal", "scale": {"domain": ["Before AB","Pre AB","During AB","Post AB"], "range": ["#E64B35","#4DBBD5","#00A087","#3C5488"]}, "legend": null}}},
      {"transform": [{"filter": "datum.group=='Before AB'"}], "mark": {"type": "text", "align": "right", "baseline": "alphabetic", "dx": 11, "dy": 18, "fontSize": 14, "color": "black"}, "encoding": {"x": {"datum": "Post AB"}, "y": {"datum": 5}, "text": {"field": "otu"}}}
     ]},
    {"width": 108, "height": 108, "data": {"name": "pts"}, "transform": [{"filter": "datum.chart=='D5'"}], "view": {"fill": "#A9B1CB", "stroke": "black", "strokeWidth": 2},
     "encoding": {"x": {"field": "group", "type": "nominal", "title": null, "sort": null, "scale": {"type": "point", "domain": ["Before AB","Pre AB","During AB","Post AB"], "padding": 0.67}}, "y": {"field": "value", "type": "quantitative", "title": null, "scale": {"domain": [0, 40], "nice": false}, "axis": {"values": [0,10,20,30,40], "format": "d"}}},
     "layer": [
      {"mark": {"type": "circle", "size": 70, "opacity": 1}, "encoding": {"color": {"field": "group", "type": "nominal", "scale": {"domain": ["Before AB","Pre AB","During AB","Post AB"], "range": ["#E64B35","#4DBBD5","#00A087","#3C5488"]}, "legend": null}}},
      {"transform": [{"filter": "datum.group=='Before AB'"}], "mark": {"type": "text", "align": "right", "baseline": "alphabetic", "dx": 11, "dy": 18, "fontSize": 14, "color": "black"}, "encoding": {"x": {"datum": "Post AB"}, "y": {"datum": 40}, "text": {"field": "otu"}}}
     ]}
  ], "columns": 3, "spacing": {"row": 86, "column": 49}, "bounds": "flush"}
 ], "spacing": 10}
], "spacing": 75}
]
}
